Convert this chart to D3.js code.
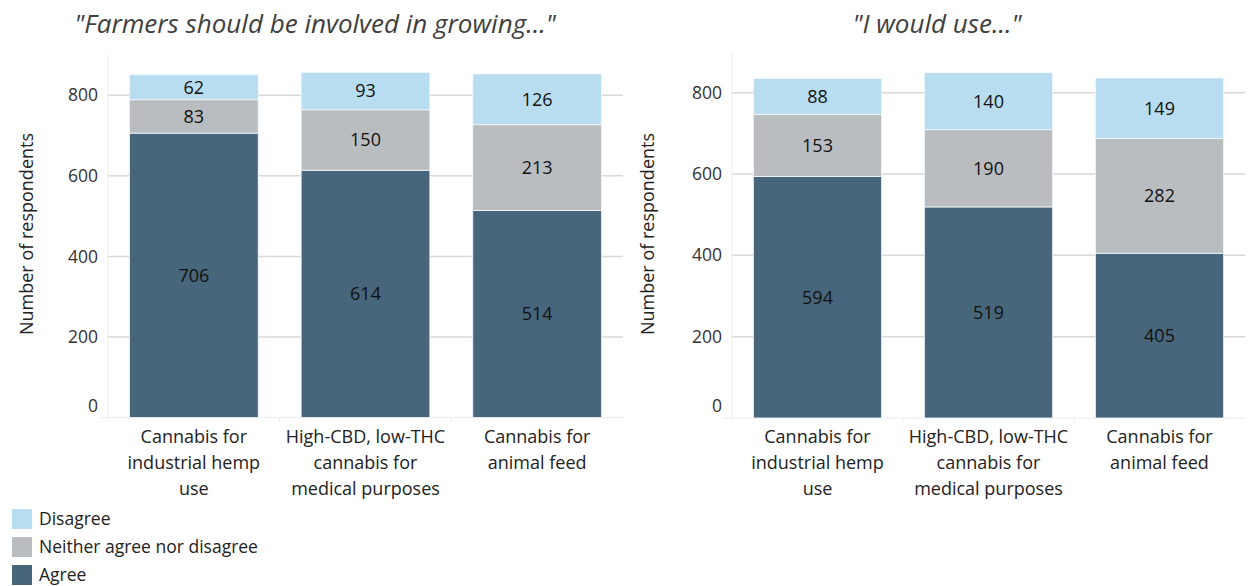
<!DOCTYPE html>
<html>
	<head>
		<meta charset="UTF-8" />
		<title>Cannabis survey</title>
		<script src="https://d3js.org/d3.v7.min.js"></script>
		<style>
			body { margin: 0; background: #fff; }
			svg { display: block; font-family: 'Open Sans', 'Noto Sans', sans-serif; }
		</style>
	</head>
	<body>
		<svg id="chart" width="1253" height="586"></svg>
		<script type="text/javascript">
			// data
			const categories = ['Cannabis for industrial hemp use', 'High-CBD, low-THC cannabis for medical purposes', 'Cannabis for animal feed'];
			const categoryLines = [['Cannabis for', 'industrial hemp', 'use'], ['High-CBD, low-THC', 'cannabis for', 'medical purposes'], ['Cannabis for', 'animal feed']];
			const seriesNames = ['Agree', 'Neither agree nor disagree', 'Disagree'];
			const seriesColors = ['#48667b', '#babdc0', '#b9ddf0'];
			const growAgree = [706, 614, 514];
			const growNeither = [83, 150, 213];
			const growDisagree = [62, 93, 126];
			const useAgree = [594, 519, 405];
			const useNeither = [153, 190, 282];
			const useDisagree = [88, 140, 149];
			const yTicks = [0, 200, 400, 600, 800];
			const titles = ['"Farmers should be involved in growing..."', '"I would use..."'];

			const svg = d3.select('#chart');

			const keys = ['agree', 'neither', 'disagree'];
			function rows(a, n, d) {
				return categories.map((c, i) => ({ cat: c, agree: a[i], neither: n[i], disagree: d[i] }));
			}

			const panels = [
				{ data: rows(growAgree, growNeither, growDisagree), x0: 108, x1: 623, yBottom: 417.5, yTop: 55, titleX: 315, axisTitleX: 27 },
				{ data: rows(useAgree, useNeither, useDisagree), x0: 732, x1: 1245, yBottom: 418, yTop: 52, titleX: 937, axisTitleX: 648 }
			];

			panels.forEach((p, pi) => {
				const g = svg.append('g');
				const x = d3.scaleBand().domain(categories).range([p.x0, p.x1]).paddingInner(0.25).paddingOuter(0.125);
				const y = d3.scaleLinear().domain([0, 900]).range([p.yBottom, p.yTop]);

				// title
				g.append('text')
					.attr('x', p.titleX).attr('y', 33)
					.attr('text-anchor', 'middle')
					.attr('font-size', 26).attr('font-style', 'italic')
					.attr('fill', '#404040')
					.text(titles[pi]);

				// gridlines
				g.selectAll('line.grid').data(yTicks.filter(d => d > 0)).join('line')
					.attr('class', 'grid')
					.attr('x1', p.x0).attr('x2', p.x1)
					.attr('y1', d => y(d)).attr('y2', d => y(d))
					.attr('stroke', '#d9d9d9').attr('stroke-width', 1.5);

				// axis lines
				g.append('line').attr('x1', p.x0).attr('x2', p.x0).attr('y1', p.yTop).attr('y2', p.yBottom + 4)
					.attr('stroke', '#ececec').attr('stroke-width', 1);
				g.append('line').attr('x1', p.x0 - 8).attr('x2', p.x1).attr('y1', p.yBottom).attr('y2', p.yBottom)
					.attr('stroke', '#ececec').attr('stroke-width', 1);
				const bounds = categories.slice(1).map(c => x(c) - x.step() * x.paddingInner() / 2);
				g.selectAll('line.sep').data(bounds).join('line')
					.attr('class', 'sep')
					.attr('x1', d => d).attr('x2', d => d)
					.attr('y1', p.yBottom).attr('y2', p.yBottom + 5)
					.attr('stroke', '#ececec');

				// y tick labels (excel puts the 0 a bit higher)
				g.selectAll('text.ytick').data(yTicks).join('text')
					.attr('class', 'ytick')
					.attr('x', p.x0 - 10)
					.attr('y', d => y(d) + (d === 0 ? -12 : 0))
					.attr('dy', '0.35em')
					.attr('text-anchor', 'end')
					.attr('font-size', 17.5).attr('fill', '#333')
					.text(d => d);

				// y axis title
				g.append('text')
					.attr('transform', `translate(${p.axisTitleX},234) rotate(-90)`)
					.attr('dy', '0.35em')
					.attr('text-anchor', 'middle')
					.attr('font-size', 18).attr('fill', '#222')
					.text('Number of respondents');

				// stacked bars
				const stacked = d3.stack().keys(keys)(p.data);
				const layer = g.selectAll('g.layer').data(stacked).join('g')
					.attr('class', 'layer')
					.attr('fill', (d, i) => seriesColors[i]);
				layer.selectAll('rect').data(d => d).join('rect')
					.attr('x', d => x(d.data.cat))
					.attr('width', x.bandwidth())
					.attr('y', d => y(d[1]))
					.attr('height', d => y(d[0]) - y(d[1]))
					.attr('stroke', '#f4f8fb').attr('stroke-width', 0.8);
				layer.selectAll('text').data(d => d).join('text')
					.attr('x', d => x(d.data.cat) + x.bandwidth() / 2)
					.attr('y', d => (y(d[0]) + y(d[1])) / 2)
					.attr('dy', '0.35em')
					.attr('text-anchor', 'middle')
					.attr('font-size', 18).attr('fill', '#111')
					.text(d => d[1] - d[0]);

				// category labels
				const cat = g.selectAll('text.cat').data(categories).join('text')
					.attr('class', 'cat')
					.attr('text-anchor', 'middle')
					.attr('font-size', 18).attr('fill', '#222');
				cat.selectAll('tspan').data((d, i) => categoryLines[i].map(l => ({ l, c: d }))).join('tspan')
					.attr('x', d => x(d.c) + x.bandwidth() / 2)
					.attr('y', (d, i) => 443 + i * 26)
					.text(d => d.l);
			});

			// legend
			const legendOrder = [2, 1, 0];
			const legend = svg.append('g');
			const item = legend.selectAll('g').data(legendOrder).join('g')
				.attr('transform', (d, i) => `translate(12,${509 + i * 28})`);
			item.append('rect').attr('width', 20).attr('height', 20).attr('fill', d => seriesColors[d]);
			item.append('text').attr('x', 27).attr('y', 10).attr('dy', '0.35em')
				.attr('font-size', 17.5).attr('fill', '#222')
				.text(d => seriesNames[d]);
		</script>
	</body>
</html>
